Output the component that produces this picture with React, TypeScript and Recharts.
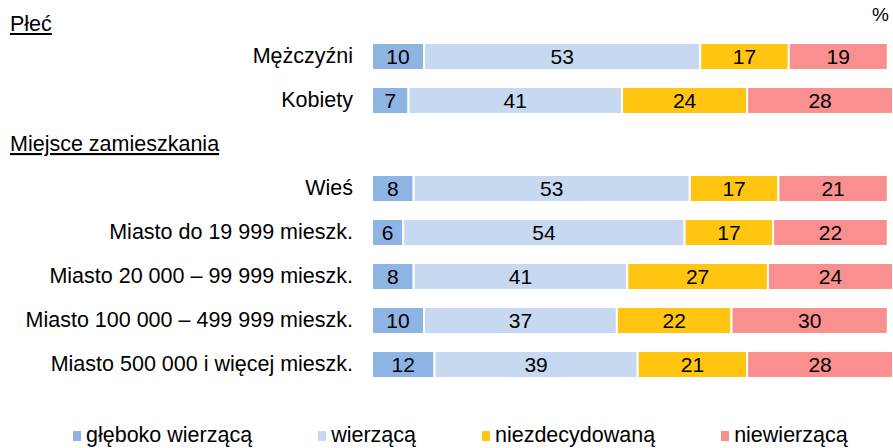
import React from 'react';
import { BarChart, Bar, XAxis, YAxis, LabelList, Legend } from 'recharts';

// kategorie (nagłówek sekcji oznaczony jako header)
const categories = [
    'Mężczyźni',
    'Kobiety',
    'Miejsce zamieszkania',
    'Wieś',
    'Miasto do 19 999 mieszk.',
    'Miasto 20 000 – 99 999 mieszk.',
    'Miasto 100 000 – 499 999 mieszk.',
    'Miasto 500 000 i więcej mieszk.',
];
const headers = ['Miejsce zamieszkania'];

const gleboko = [10, 7, null, 8, 6, 8, 10, 12];
const wierzaca = [53, 41, null, 53, 54, 41, 37, 39];
const niezdecydowana = [17, 24, null, 17, 17, 27, 22, 21];
const niewierzaca = [19, 28, null, 21, 22, 24, 30, 28];

const series = [
    { key: 'gleboko', name: 'głęboko wierzącą', color: '#8EB4E3' },
    { key: 'wierzaca', name: 'wierzącą', color: '#C6D9F1' },
    { key: 'niezdecydowana', name: 'niezdecydowaną', color: '#FFC510' },
    { key: 'niewierzaca', name: 'niewierzącą', color: '#F98F8F' },
];

const data = categories.map((name, i) => ({
    name,
    gleboko: gleboko[i],
    wierzaca: wierzaca[i],
    niezdecydowana: niezdecydowana[i],
    niewierzaca: niewierzaca[i],
}));

const FONT = '"Liberation Sans", Arial, sans-serif';
const FS = 21.5;

const CategoryTick = (props: any) => {
    const { x, y, payload } = props;
    const isHeader = headers.includes(payload.value);
    if (isHeader) {
        return (
            <text x={10} y={y} dy={7} textAnchor="start" fontSize={FS} fill="#000"
                fontFamily={FONT} textDecoration="underline">
                {payload.value}
            </text>
        );
    }
    return (
        <text x={x - 11} y={y} dy={7} textAnchor="end" fontSize={FS} fill="#000" fontFamily={FONT}>
            {payload.value}
        </text>
    );
};

const LegendContent = () => (
    <div style={{ display: 'flex', paddingLeft: 73, gap: 66, fontFamily: FONT, fontSize: FS, color: '#000' }}>
        {series.map((s) => (
            <div key={s.key} style={{ display: 'flex', alignItems: 'center', gap: 5 }}>
                <span style={{ width: 8, height: 10, background: s.color, display: 'inline-block' }} />
                <span>{s.name}</span>
            </div>
        ))}
    </div>
);

export default function App() {
    return (
        <div style={{ position: 'fixed', left: 0, top: 0, width: 893, height: 448, overflow: 'hidden', background: '#fff' }}>
            <div style={{ position: 'absolute', left: 10, top: 12, fontFamily: FONT, fontSize: FS, textDecoration: 'underline' }}>
                Płeć
            </div>
            <div style={{ position: 'absolute', left: 872, top: 4, fontFamily: FONT, fontSize: 19 }}>%</div>
            <BarChart
                width={893}
                height={448}
                data={data}
                layout="vertical"
                margin={{ top: 34, right: 0, bottom: 62, left: 0 }}
                barSize={27}
            >
                <XAxis type="number" domain={[0, 100]} hide />
                <YAxis
                    type="category"
                    dataKey="name"
                    width={372}
                    axisLine={false}
                    tickLine={false}
                    tick={<CategoryTick />}
                    interval={0}
                />
                <Legend
                    layout="horizontal"
                    verticalAlign="middle"
                    align="center"
                    wrapperStyle={{ top: 423, left: 0, width: 893 }}
                    content={<LegendContent />}
                />
                {series.map((s) => (
                    <Bar key={s.key} dataKey={s.key} name={s.name} stackId="a" fill={s.color}
                        stroke="#fff" strokeWidth={2} isAnimationActive={false}>
                        <LabelList dataKey={s.key} position="center" fill="#000" fontSize={21} fontFamily={FONT} />
                    </Bar>
                ))}
            </BarChart>
        </div>
    );
}
